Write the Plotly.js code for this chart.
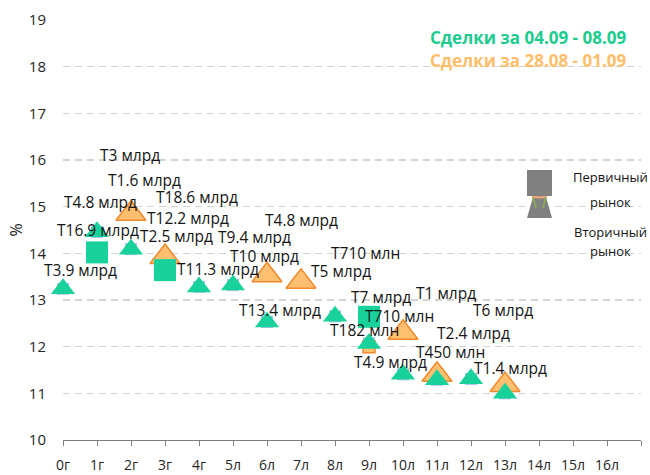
<!DOCTYPE html>
<html>
<head>
<meta charset="utf-8">
<script src="https://cdn.plot.ly/plotly-3.0.1.min.js"></script>
<style>html,body{margin:0;padding:0;background:#fff;}#chart{width:650px;height:475px;}</style>
</head>
<body>
<div id="chart"></div>
<script>
// Categories (terms)
var categories = ['0г','1г','2г','3г','4г','5л','6л','7л','8л','9л','10л','11л','12л','13л','14л','15л','16л'];

// Deals 04.09 - 08.09, secondary market (green triangles)
var secNewX = [0, 1, 2, 4, 5, 6, 8, 9, 10, 11, 12, 13];
var secNewY = [13.24, 14.46, 14.09, 13.28, 13.32, 12.53, 12.65, 12.07, 11.41, 11.29, 11.31, 11.00];

// Deals 04.09 - 08.09, primary market (green squares)
var priNewX = [1, 3, 9];
var priNewY = [14.02, 13.64, 12.64];

// Deals 28.08 - 01.09, secondary market (orange triangles)
var secOldX = [2, 3, 6, 7, 10, 11, 13];
var secOldY = [14.85, 13.92, 13.53, 13.39, 12.30, 11.40, 11.18];

// Deals 28.08 - 01.09, primary market (orange squares)
var priOldX = [9];
var priOldY = [12.00];

// Volume labels
var labelText = ['Т3 млрд','Т1.6 млрд','Т4.8 млрд','Т18.6 млрд','Т16.9 млрд','Т12.2 млрд','Т2.5 млрд','Т9.4 млрд',
                 'Т4.8 млрд','Т10 млрд','Т3.9 млрд','Т11.3 млрд','Т5 млрд','Т710 млн','Т13.4 млрд','Т7 млрд',
                 'Т1 млрд','Т710 млн','Т6 млрд','Т182 млн','Т2.4 млрд','Т450 млн','Т4.9 млрд','Т1.4 млрд'];
var labelX = [1.97, 2.41, 1.09, 3.94, 1.03, 3.68, 3.35, 5.62,
              7.00, 5.94, 0.50, 4.56, 8.18, 8.91, 6.38, 9.35,
              11.26, 9.91, 12.94, 8.88, 12.06, 11.41, 9.62, 13.15];
var labelY = [16.11, 15.57, 15.10, 15.21, 14.50, 14.76, 14.37, 14.35,
              14.71, 13.94, 13.64, 13.66, 13.62, 14.01, 12.79, 13.06,
              13.15, 12.66, 12.79, 12.36, 12.29, 11.89, 11.67, 11.54];

var legendNew = 'Сделки за 04.09 - 08.09';
var legendOld = 'Сделки за 28.08 - 01.09';

var GREEN = '#19D19B';
var ORANGE_FILL = '#FFBF70';
var ORANGE_LINE = '#EF8A2F';

var allX = secNewX.concat(priNewX, secOldX, priOldX);
var allY = secNewY.concat(priNewY, secOldY, priOldY);

var traces = [
  { // small default markers behind each point
    x: allX, y: allY, type: 'scatter', mode: 'markers', hoverinfo: 'skip', cliponaxis: false,
    marker: {symbol: 'square', size: 12, color: 'rgba(150,180,225,0.85)', line: {width: 0}}
  },
  {
    x: allX, y: allY, type: 'scatter', mode: 'markers', hoverinfo: 'skip', cliponaxis: false,
    marker: {symbol: 'triangle-up', size: 8, color: '#4A76C6', line: {color: '#ED7D31', width: 1}}
  },
  {
    x: priOldX, y: priOldY, type: 'scatter', mode: 'markers', name: 'Первичный рынок 28.08 - 01.09', cliponaxis: false,
    marker: {symbol: 'square', size: 12, color: ORANGE_FILL, line: {color: ORANGE_LINE, width: 1.5}}
  },
  {
    x: secOldX, y: secOldY, type: 'scatter', mode: 'markers', name: 'Вторичный рынок 28.08 - 01.09', cliponaxis: false,
    marker: {symbol: 'triangle-up', size: 26, color: ORANGE_FILL, line: {color: ORANGE_LINE, width: 1.5}}
  },
  {
    x: secNewX, y: secNewY, type: 'scatter', mode: 'markers', name: 'Вторичный рынок 04.09 - 08.09', cliponaxis: false,
    marker: {symbol: 'triangle-up', size: 21, color: GREEN, line: {width: 0}}
  },
  {
    x: priNewX, y: priNewY, type: 'scatter', mode: 'markers', name: 'Первичный рынок 04.09 - 08.09', cliponaxis: false,
    marker: {symbol: 'square', size: 22, color: GREEN, line: {width: 0}}
  }
];

var labelFont = {family: 'Open Sans', size: 15.5, color: '#141414'};
var annotations = labelText.map(function (t, i) {
  return {x: labelX[i], y: labelY[i], xref: 'x', yref: 'y', text: t, showarrow: false,
          xanchor: 'center', yanchor: 'middle', font: labelFont};
});

// conversion helpers from pixel-like layout positions to paper fractions
var L = 63, R = 9, T = 20, B = 35, W = 650, H = 475;
function px(v) { return (v - L) / (W - L - R); }
function py(v) { return (H - B - v) / (H - T - B); }

annotations.push(
  {xref: 'paper', yref: 'paper', x: px(628), y: py(38), xanchor: 'right', yanchor: 'middle', showarrow: false,
   text: '<b>' + legendNew + '</b>', font: {family: 'Open Sans', size: 17, color: '#1CCB8E'}},
  {xref: 'paper', yref: 'paper', x: px(628), y: py(60), xanchor: 'right', yanchor: 'middle', showarrow: false,
   text: '<b>' + legendOld + '</b>', font: {family: 'Open Sans', size: 17, color: '#FFBE6A'}}
);
var legFont = {family: 'Open Sans', size: 13, color: '#141414'};
[['Первичный', 177], ['рынок', 202], ['Вторичный', 232], ['рынок', 251]].forEach(function (a) {
  annotations.push({xref: 'paper', yref: 'paper', x: px(610), y: py(a[1]), xanchor: 'center', yanchor: 'middle',
                    showarrow: false, text: a[0], font: legFont});
});

var shapes = [
  {type: 'path', xref: 'paper', yref: 'paper', fillcolor: '#808080', line: {width: 0},
   path: 'M' + px(539.5) + ',' + py(174) + ' L' + px(552) + ',' + py(218) + ' L' + px(527) + ',' + py(218) + ' Z'},
  {type: 'path', xref: 'paper', yref: 'paper', line: {color: '#F4A57A', width: 2},
   path: 'M' + px(532) + ',' + py(196) + ' Q' + px(539.5) + ',' + py(199) + ' ' + px(547) + ',' + py(196)},
  {type: 'path', xref: 'paper', yref: 'paper', line: {color: '#8DB04A', width: 1.5},
   path: 'M' + px(533) + ',' + py(197) + ' L' + px(536) + ',' + py(208) + ' M' + px(546) + ',' + py(197) + ' L' + px(543) + ',' + py(208)},
  {type: 'rect', xref: 'paper', yref: 'paper', fillcolor: '#808080', line: {width: 0},
   x0: px(527), x1: px(552), y0: py(196), y1: py(170)}
];

var tickVals = categories.map(function (c, i) { return i; });

var layout = {
  width: W, height: H,
  margin: {l: L, r: R, t: T, b: B, pad: 0},
  paper_bgcolor: '#ffffff', plot_bgcolor: '#ffffff',
  showlegend: false,
  font: {family: 'Open Sans', color: '#262626'},
  xaxis: {
    range: [0, 17], tickmode: 'array', tickvals: tickVals.concat([17]), ticktext: categories.concat(['']),
    showgrid: false, zeroline: false, showline: true, linecolor: '#7f7f7f', linewidth: 1,
    ticks: 'outside', ticklen: 5, tickcolor: '#7f7f7f', ticklabelstandoff: 7,
    tickfont: {family: 'Open Sans', size: 14, color: '#262626'}, fixedrange: true
  },
  yaxis: {
    range: [10, 19], tickmode: 'linear', tick0: 10, dtick: 1,
    showgrid: true, gridcolor: '#D4D4D4', gridwidth: 1.5, griddash: '7px,5px',
    zeroline: false, showline: false, ticks: '', ticklabelstandoff: 16,
    tickfont: {family: 'Open Sans', size: 15, color: '#262626'},
    title: {text: '%', font: {family: 'Open Sans', size: 16, color: '#262626'}, standoff: 2},
    fixedrange: true
  },
  annotations: annotations,
  shapes: shapes
};

Plotly.newPlot('chart', traces, layout, {displayModeBar: false, staticPlot: true});
</script>
</body>
</html>
